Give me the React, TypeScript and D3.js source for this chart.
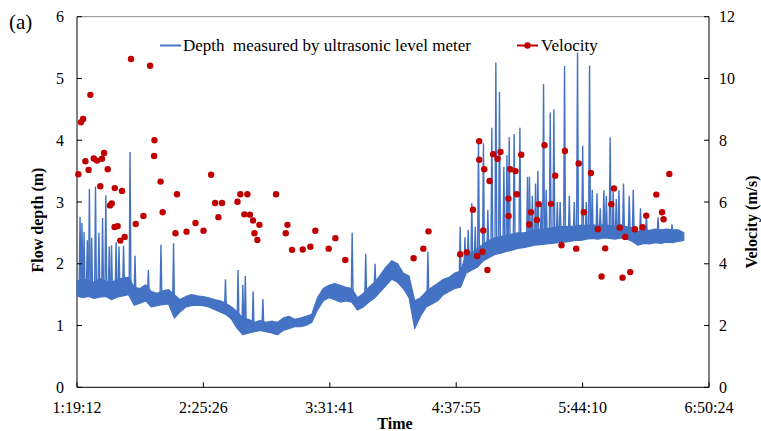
import React from "react";
import * as d3 from "d3";

// ---------- data ----------
const xTickLabels = ["1:19:12", "2:25:26", "3:31:41", "4:37:55", "5:44:10", "6:50:24"];
const depthTicks = [0, 1, 2, 3, 4, 5, 6];
const velocityTicks = [0, 2, 4, 6, 8, 10, 12];

// depth record: envelope (min / max) of the level-meter signal, one pair per 3 minutes from 1:19:12
const depthStartMin = 79.2;
const depthStepMin = 3;
const depthLow = [
  1.48, 1.45, 1.47, 1.44, 1.46, 1.47, 1.42, 1.46, 1.48, 1.5,
  1.33, 1.36, 1.4, 1.3, 1.32, 1.34, 1.35, 1.12, 1.22, 1.3,
  1.32, 1.33, 1.32, 1.3, 1.26, 1.22, 1.18, 1.1, 0.95, 0.85,
  0.88, 0.9, 0.92, 0.9, 0.88, 0.85, 0.92, 0.95, 0.98, 0.98,
  1.0, 1.05, 1.25, 1.4, 1.45, 1.42, 1.38, 1.4, 1.38, 1.25,
  1.3, 1.38, 1.45, 1.55, 1.65, 1.75, 1.7, 1.6, 1.45, 0.95,
  1.15, 1.3, 1.35, 1.4, 1.5, 1.55, 1.6, 1.62, 1.85, 1.9,
  1.95, 2.05, 2.1, 2.15, 2.17, 2.2, 2.22, 2.25, 2.26, 2.28,
  2.3, 2.31, 2.32, 2.33, 2.34, 2.35, 2.36, 2.38, 2.38, 2.4,
  2.41, 2.4, 2.42, 2.41, 2.4, 2.42, 2.4, 2.36, 2.3, 2.33,
  2.32, 2.34, 2.33, 2.35, 2.34, 2.36, 2.38,
];
const depthHigh = [
  1.72, 1.75, 1.73, 1.7, 1.76, 1.72, 1.7, 1.74, 1.77, 1.78,
  1.62, 1.6, 1.66, 1.55, 1.52, 1.56, 1.58, 1.5, 1.42, 1.47,
  1.5, 1.48, 1.47, 1.45, 1.42, 1.4, 1.36, 1.3, 1.22, 1.12,
  1.1, 1.05, 1.08, 1.05, 1.07, 1.05, 1.12, 1.15, 1.1, 1.12,
  1.15, 1.18, 1.45, 1.6, 1.65, 1.68, 1.65, 1.62, 1.6, 1.45,
  1.52, 1.62, 1.7, 1.82, 1.95, 2.05, 2.0, 1.85, 1.8, 1.4,
  1.45, 1.55, 1.62, 1.68, 1.75, 1.78, 1.85, 1.88, 2.15, 2.18,
  2.25, 2.32, 2.38, 2.42, 2.44, 2.46, 2.48, 2.5, 2.5, 2.52,
  2.54, 2.56, 2.57, 2.58, 2.6, 2.6, 2.6, 2.61, 2.62, 2.62,
  2.63, 2.62, 2.63, 2.62, 2.61, 2.63, 2.6, 2.58, 2.52, 2.55,
  2.54, 2.56, 2.55, 2.56, 2.55, 2.55, 2.5,
];
// short surges in the depth record: [time (min), peak depth (m)]
const depthSpikeTime = [
  80.8, 81.8, 82.9, 84.6, 85.7, 86.9, 88.9, 90.7, 92.6, 94.3,
  96.1, 97.3, 99.7, 101.2, 103.6, 107.0, 109.6, 116.6, 123.2, 129.8,
  157.0, 163.6, 166.1, 167.4, 171.5, 176.6, 223.4, 230.5, 235.4, 263.1,
  280.0, 282.5, 284.2, 286.1, 287.9, 289.6, 292.2, 294.5, 296.6, 298.7,
  300.6, 302.9, 304.5, 305.7, 308.3, 311.3, 315.3, 316.3, 317.8, 319.5,
  320.7, 322.5, 323.7, 325.1, 327.2, 329.1, 330.9, 332.4, 334.7, 337.2,
  339.8, 341.5, 344.2, 346.1, 347.8, 349.2, 351.7, 353.4, 355.3, 356.6,
  358.6, 360.2, 361.8, 363.2, 365.6, 368.6, 370.7, 374.5, 377.6, 383.7,
  391.0,
];
const depthSpikePeak = [
  2.76, 2.66, 2.52, 2.38, 3.21, 2.42, 3.25, 2.5, 2.74, 3.11,
  2.28, 2.3, 2.35, 2.28, 2.29, 3.81, 2.13, 1.9, 2.31, 2.33,
  1.75, 1.9, 1.66, 1.8, 1.55, 1.43, 2.5, 2.16, 2.0, 2.2,
  2.6, 2.43, 2.55, 2.98, 2.6, 3.98, 3.95, 2.87, 4.2, 5.26,
  4.78, 3.57, 3.76, 4.05, 4.1, 4.2, 3.41, 3.41, 3.1, 3.3,
  3.5, 2.95, 4.91, 3.2, 4.45, 4.5, 3.0, 3.0, 5.2, 3.1,
  3.0, 5.42, 3.91, 3.0, 5.21, 3.2, 3.14, 2.9, 3.19, 3.1,
  4.05, 3.17, 3.05, 3.19, 3.3, 3.1, 3.2, 2.9, 2.8, 2.75,
  2.64,
];

// velocity measurements: time (min) and velocity (m/s)
const velocityTime = [
  79.9, 81.3, 82.4, 86.2, 83.6, 85.3, 88.0, 89.7, 92.3, 93.4,
  95.3, 91.4, 99.0, 102.8, 96.5, 97.4, 98.9, 100.5, 101.9, 104.2,
  107.5, 117.5, 119.8, 119.6, 123.0, 124.1, 131.6, 110.0, 114.0, 130.8,
  136.6, 141.3, 145.5, 149.5, 151.6, 155.2, 153.3, 163.3, 164.8, 168.5,
  166.9, 169.8, 171.5, 174.8, 172.2, 173.7, 183.5, 189.5, 188.6, 191.9,
  197.5, 201.5, 204.1, 211.1, 214.6, 219.8, 255.6, 260.7, 263.4, 280.0,
  283.5, 286.7, 290.0, 290.0, 292.6, 295.4, 288.9, 291.7, 292.1, 294.3,
  297.3, 299.6, 301.1, 306.2, 309.0, 305.3, 305.4, 309.7, 312.0, 317.1,
  316.2, 320.2, 321.2, 324.2, 327.6, 329.8, 333.1, 334.9, 340.8, 342.1,
  344.8, 348.5, 352.2, 356.0, 354.1, 360.6, 359.2, 363.6, 365.1, 366.5,
  369.1, 371.6, 375.6, 377.5, 382.8, 385.8, 386.6, 389.6,
];
const velocityValue = [
  6.9, 8.58, 8.69, 9.47, 7.32, 7.04, 7.41, 7.34, 7.4, 7.59,
  7.06, 6.51, 6.45, 6.36, 5.89, 5.95, 5.19, 5.22, 4.75, 4.87,
  10.63, 10.41, 8.0, 7.49, 6.66, 5.67, 6.25, 5.29, 5.55, 4.99,
  5.04, 5.32, 5.07, 6.88, 5.97, 5.97, 5.51, 6.01, 6.25, 6.25,
  5.6, 5.59, 5.4, 5.26, 4.99, 4.77, 6.25, 5.26, 4.99, 4.45,
  4.46, 4.55, 5.07, 4.49, 4.83, 4.12, 4.18, 4.49, 5.05, 4.31,
  4.37, 5.75, 7.97, 7.37, 7.06, 6.68, 4.25, 4.39, 5.08, 3.8,
  7.55, 7.4, 7.62, 7.06, 7.0, 6.11, 5.55, 6.25, 7.53, 5.67,
  5.27, 5.42, 5.93, 7.84, 5.94, 6.85, 4.6, 7.65, 4.49, 7.25,
  5.67, 6.94, 5.12, 4.5, 3.59, 6.44, 5.93, 5.17, 3.55, 4.87,
  3.73, 5.12, 5.18, 5.56, 6.24, 5.67, 5.44, 6.91,
];

// ---------- layout ----------
const W = 761;
const H = 431;
const M = { left: 77, right: 709, top: 16.7, bottom: 387.3 };
const BLUE = "#4472C4";
const RED = "#C00000";
const FONT = "Liberation Serif, Times New Roman, Times, serif";

const toMin = (s: string) => {
  const [h, m, sec] = s.split(":").map(Number);
  return h * 60 + m + sec / 60;
};

export default function App() {
  const tickMins = xTickLabels.map(toMin);
  const x = d3.scaleLinear().domain([tickMins[0], tickMins[tickMins.length - 1]]).range([M.left, M.right]);
  const yD = d3.scaleLinear().domain([0, 6]).range([M.bottom, M.top]);
  const yV = d3.scaleLinear().domain([0, 12]).range([M.bottom, M.top]);

  const band = depthLow.map((lo, i) => ({ t: depthStartMin + i * depthStepMin, lo, hi: depthHigh[i] }));
  const area = d3
    .area<{ t: number; lo: number; hi: number }>()
    .x((d) => x(d.t))
    .y0((d) => yD(d.lo))
    .y1((d) => yD(d.hi))
    .curve(d3.curveLinear);

  const bandTimes = band.map((d) => d.t);
  const baseAt = (t: number) => {
    const i = Math.max(1, Math.min(band.length - 1, d3.bisectLeft(bandTimes, t)));
    const a = band[i - 1];
    const b = band[i];
    const f = (t - a.t) / (b.t - a.t);
    return (a.lo + a.hi) / 2 + f * ((b.lo + b.hi) / 2 - (a.lo + a.hi) / 2);
  };

  const spikePaths = depthSpikeTime.map((t, i) => {
    const base = baseAt(t);
    const p = d3.path();
    p.moveTo(x(t) - 0.9, yD(base));
    p.lineTo(x(t), yD(depthSpikePeak[i]));
    p.lineTo(x(t) + 0.9, yD(base));
    return p.toString();
  });

  const txt = { fontFamily: FONT } as React.CSSProperties;

  return (
    <svg width={W} height={H} style={{ position: "absolute", left: 0, top: 0, background: "#fff", fontFamily: FONT }}>
      {/* panel label */}
      <text x={9} y={29} fontSize={21} fill="#000" style={txt}>(a)</text>

      {/* frame */}
      <line x1={M.left} x2={M.right} y1={M.top} y2={M.top} stroke="#8c8c8c" strokeWidth={1} />
      <line x1={M.left} x2={M.left} y1={M.top} y2={M.bottom} stroke="#000" strokeWidth={1} />
      <line x1={M.right} x2={M.right} y1={M.top} y2={M.bottom} stroke="#000" strokeWidth={1} />
      <line x1={M.left} x2={M.right} y1={M.bottom} y2={M.bottom} stroke="#000" strokeWidth={1} />

      {/* depth series */}
      <path d={area(band) ?? ""} fill={BLUE} stroke={BLUE} strokeWidth={1.2} strokeLinejoin="round" />
      {spikePaths.map((d, i) => (
        <path key={i} d={d} fill="none" stroke={BLUE} strokeWidth={1.4} />
      ))}

      {/* velocity */}
      {velocityTime.map((t, i) => (
        <circle key={i} cx={x(t)} cy={yV(velocityValue[i])} r={3.2} fill={RED} />
      ))}

      {/* left axis */}
      {depthTicks.map((v) => (
        <g key={v}>
          <line x1={M.left} x2={M.left + 5} y1={yD(v)} y2={yD(v)} stroke="#000" />
          <text x={64} y={yD(v) + 5.5} fontSize={16} textAnchor="end" fill="#000" style={txt}>{v}</text>
        </g>
      ))}
      {/* right axis */}
      {velocityTicks.map((v) => (
        <g key={v}>
          <line x1={M.right - 5} x2={M.right} y1={yV(v)} y2={yV(v)} stroke="#000" />
          <text x={719} y={yV(v) + 5.5} fontSize={16} textAnchor="start" fill="#000" style={txt}>{v}</text>
        </g>
      ))}
      {/* bottom axis */}
      {xTickLabels.map((l, i) => (
        <g key={l}>
          <line x1={x(tickMins[i])} x2={x(tickMins[i])} y1={M.bottom} y2={M.bottom - 5} stroke="#000" />
          <text x={x(tickMins[i])} y={413} fontSize={16} textAnchor="middle" fill="#000" style={txt}>{l}</text>
        </g>
      ))}

      {/* axis titles */}
      <text x={395} y={429} fontSize={16} fontWeight="bold" textAnchor="middle" fill="#000" style={txt}>Time</text>
      <text transform={`translate(43,220) rotate(-90)`} fontSize={16} fontWeight="bold" textAnchor="middle" fill="#000" style={txt}>Flow depth (m)</text>
      <text transform={`translate(757,222) rotate(-90)`} fontSize={16} fontWeight="bold" textAnchor="middle" fill="#000" style={txt}>Velocity (m/s)</text>

      {/* legend */}
      <line x1={160} x2={181} y1={45.5} y2={45.5} stroke={BLUE} strokeWidth={2} />
      <text x={183} y={51} fontSize={17} fill="#000" style={{ ...txt, whiteSpace: "pre" }}>Depth  measured by ultrasonic level meter</text>
      <line x1={517} x2={538} y1={45.5} y2={45.5} stroke={RED} strokeWidth={2} />
      <circle cx={527.5} cy={45.5} r={3.2} fill={RED} />
      <text x={541} y={51} fontSize={17} fill="#000" style={txt}>Velocity</text>
    </svg>
  );
}
